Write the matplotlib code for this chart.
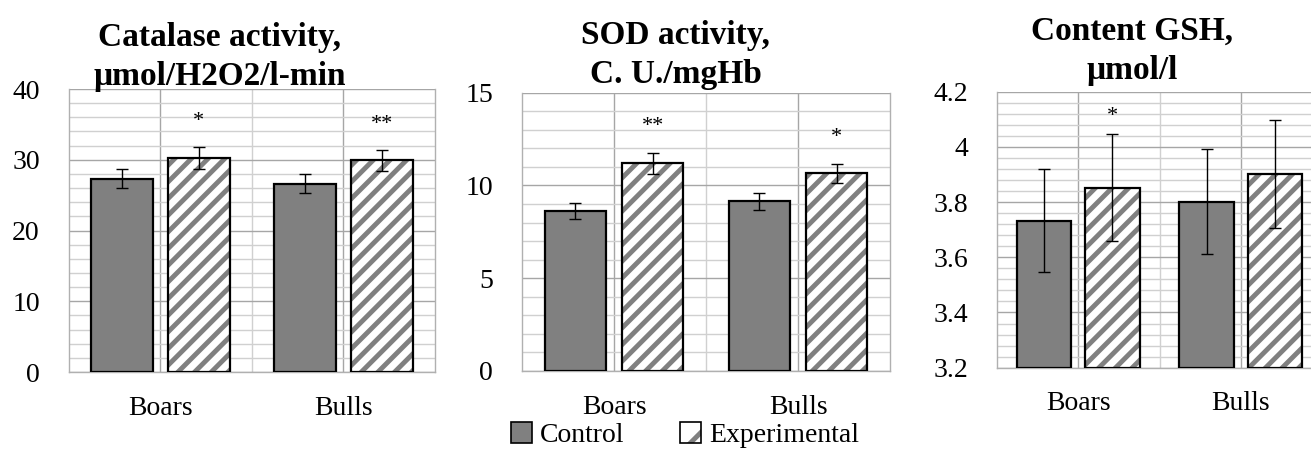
import matplotlib.pyplot as plt
from matplotlib.patches import Patch
from matplotlib.legend_handler import HandlerTuple
from matplotlib.ticker import MultipleLocator

plt.rcParams["font.family"] = ["Liberation Serif", "DejaVu Serif"]
plt.rcParams["hatch.linewidth"] = 3.5

groups = ["Boars", "Bulls"]

# catalase, umol/H2O2/l-min
cat_control = [27.3, 26.6]
cat_control_err = [1.35, 1.35]
cat_exp = [30.3, 29.9]
cat_exp_err = [1.55, 1.45]
cat_marks = ["*", "**"]

# SOD, C.U./mgHb
sod_control = [8.63, 9.14]
sod_control_err = [0.44, 0.47]
sod_exp = [11.2, 10.65]
sod_exp_err = [0.56, 0.52]
sod_marks = ["**", "*"]

# GSH, umol/l
gsh_control = [3.733, 3.801]
gsh_control_err = [0.186, 0.19]
gsh_exp = [3.852, 3.903]
gsh_exp_err = [0.194, 0.196]
gsh_marks = ["*", ""]

GRAY = "#808080"
fig = plt.figure(figsize=(13.11, 4.5), dpi=100)


def panel(rect, ctrl, ctrl_err, exp, exp_err, marks, ylim, major, minor, mark_y):
    ax = fig.add_axes(rect)
    x = [0, 1]
    w = 0.335
    off = 0.21
    base = ylim[0]
    ax.bar([i - off for i in x], [v - base for v in ctrl], w, bottom=base,
           color=GRAY, edgecolor="black", linewidth=1.6, zorder=3)
    # hatch drawn in gray, outline drawn separately in black
    ax.bar([i + off for i in x], [v - base for v in exp], w, bottom=base,
           color="white", edgecolor=GRAY, linewidth=0, hatch="//", zorder=3)
    ax.bar([i + off for i in x], [v - base for v in exp], w, bottom=base,
           color="none", edgecolor="black", linewidth=1.6, zorder=3)
    ax.errorbar([i - off for i in x], ctrl, yerr=ctrl_err, fmt="none",
                ecolor="black", elinewidth=1, capsize=4.5, zorder=4)
    ax.errorbar([i + off for i in x], exp, yerr=exp_err, fmt="none",
                ecolor="black", elinewidth=1, capsize=4.5, zorder=4)
    for i, m in enumerate(marks):
        if m:
            ax.text(i + off, mark_y[i], m, ha="center", va="center", fontsize=16, zorder=5)

    ax.set_xlim(-0.5, 1.5)
    ax.set_ylim(*ylim)
    ax.set_xticks(x)
    ax.set_xticklabels(groups, fontsize=20)
    ax.set_xticks([0.5], minor=True)
    ax.yaxis.set_major_locator(MultipleLocator(major))
    ax.yaxis.set_minor_locator(MultipleLocator(minor))
    ax.tick_params(axis="both", which="both", length=0)
    ax.tick_params(axis="y", labelsize=20, pad=21)
    ax.tick_params(axis="x", pad=17)
    ax.grid(True, which="major", color="#a6a6a6", linewidth=1, zorder=0)
    ax.grid(True, which="minor", color="#d0d0d0", linewidth=1, zorder=0)
    ax.set_axisbelow(True)
    for s in ax.spines.values():
        s.set_color("#b0b0b0")
        s.set_linewidth(1)
    ax.spines["top"].set_visible(False)
    return ax


ax1 = panel([0.0526, 0.1733, 0.2792, 0.6289], cat_control, cat_control_err,
            cat_exp, cat_exp_err, cat_marks, (0, 40), 10, 2, [35.4, 35.0])
ax2 = panel([0.3982, 0.1756, 0.2807, 0.6184], sod_control, sod_control_err,
            sod_exp, sod_exp_err, sod_marks, (0, 15), 5, 1, [13.2, 12.6])
ax3 = panel([0.7605, 0.1829, 0.2479, 0.6133], gsh_control, gsh_control_err,
            gsh_exp, gsh_exp_err, gsh_marks, (3.2, 4.2), 0.2, 0.04, [4.11, 0])
ax3.set_yticks([3.2, 3.4, 3.6, 3.8, 4.0, 4.2])
ax3.set_yticklabels(["3.2", "3.4", "3.6", "3.8", "4", "4.2"])

title_kw = dict(ha="center", va="baseline", fontsize=24, fontweight="bold", linespacing=1.35)
fig.text(0.1678, 1 - 85 / 450, "Catalase activity,\nμmol/H2O2/l-min", **title_kw)
fig.text(0.5153, 1 - 83 / 450, "SOD activity,\nC. U./mgHb", **title_kw)
fig.text(0.8633, 1 - 79 / 450, "Content GSH,\nμmol/l", **title_kw)

ctrl_h = Patch(facecolor=GRAY, edgecolor="black", linewidth=1.2)
exp_h = (Patch(facecolor="white", edgecolor=GRAY, linewidth=0, hatch="/"),
         Patch(facecolor="none", edgecolor="black", linewidth=1.2))
fig.legend([ctrl_h, exp_h], ["Control", "Experimental"], loc="center",
           bbox_to_anchor=(0.5225, 0.033), ncol=2, frameon=False, fontsize=20,
           handlelength=0.75, handleheight=0.75, handletextpad=0.3,
           columnspacing=2.0, borderpad=0,
           handler_map={tuple: HandlerTuple(ndivide=1, pad=0)})

fig.savefig("out.png", dpi=100)
